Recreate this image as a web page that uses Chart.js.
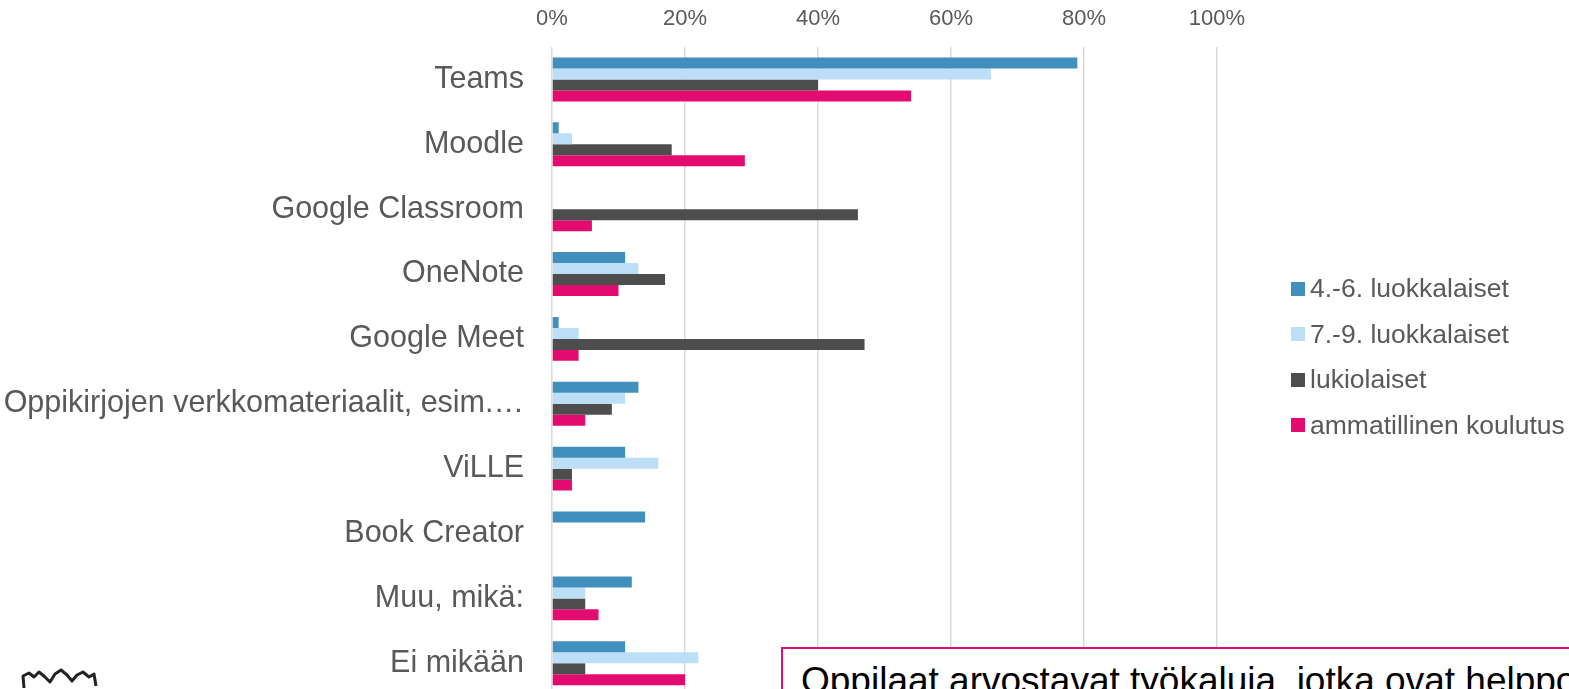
<!DOCTYPE html>
<html lang="fi">
<head>
<meta charset="utf-8">
<title>Digitaaliset oppimisalustat</title>
<script src="https://cdn.jsdelivr.net/npm/chart.js@4/dist/chart.umd.min.js"></script>
<style>
  html, body { margin: 0; padding: 0; background: #fff; overflow: hidden; }
  body { width: 1569px; height: 689px; position: relative; font-family: "Liberation Sans", Arial, sans-serif; }
  #chart { position: absolute; left: 0; top: 0; }
  #legend { position: absolute; left: 1291px; top: 266px; }
  .lg-item { display: flex; align-items: center; height: 45.5px; font-size: 26.5px; color: #595959; white-space: nowrap; }
  .lg-box { width: 14px; height: 14px; margin-right: 5px; }
  #note { position: absolute; left: 781px; top: 647px; width: 900px; height: 80px;
          border: 2px solid #E5097A; background: #fff; }
  #note span { position: absolute; left: 18px; top: 11px; font-size: 37px; color: #000; white-space: nowrap; }
  #logo { position: absolute; left: 20px; top: 668px; }
</style>
</head>
<body>
<canvas id="chart" width="1569" height="742"></canvas>
<div id="legend"></div>
<div id="note"><span>Oppilaat arvostavat työkaluja, jotka ovat helppo</span></div>
<svg id="logo" width="80" height="24" viewBox="0 0 80 24">
  <path d="M4 20 L3 8 L9 5 L14 9 L19 4 L25 9 L30 14 L35 6 L41 2 L47 7 L52 13 L57 7 L63 4 L69 9 L74 6 L76 18"
        fill="none" stroke="#222" stroke-width="3" stroke-linejoin="round"/>
</svg>

<script>
// categories (top to bottom)
const categories = [
  'Teams', 'Moodle', 'Google Classroom', 'OneNote', 'Google Meet',
  'Oppikirjojen verkkomateriaalit, esim.…', 'ViLLE', 'Book Creator', 'Muu, mikä:', 'Ei mikään'
];

const seriesNames = ['4.-6. luokkalaiset', '7.-9. luokkalaiset', 'lukiolaiset', 'ammatillinen koulutus'];

// shares in %
const grade4to6   = [79, 1, 0, 11, 1, 13, 11, 14, 12, 11];
const grade7to9   = [66, 3, 0, 13, 4, 11, 16, 0, 5, 22];
const upperSec    = [40, 18, 46, 17, 47, 9, 3, 0, 5, 5];
const vocational  = [54, 29, 6, 10, 4, 5, 3, 0, 7, 20];

const xTicks = [0, 20, 40, 60, 80, 100];

const COLORS = ['#418FBC', '#BDDEF7', '#4D4D4D', '#E30B6F'];

const seriesData = [grade4to6, grade7to9, upperSec, vocational];

// html legend
const legendEl = document.getElementById('legend');
seriesNames.forEach((name, i) => {
  const row = document.createElement('div');
  row.className = 'lg-item';
  row.innerHTML = `<span class="lg-box" style="background:${COLORS[i]}"></span>${name}`;
  legendEl.appendChild(row);
});

const ctx = document.getElementById('chart').getContext('2d');

new Chart(ctx, {
  type: 'bar',
  data: {
    labels: categories,
    datasets: seriesNames.map((name, i) => ({
      label:           name,
      data:            seriesData[i],
      backgroundColor: COLORS[i],
      borderWidth:     0,
      barPercentage:      1.0,
      categoryPercentage: 0.677,
    })),
  },
  options: {
    indexAxis:           'y',
    responsive:          false,
    animation:           false,
    layout: { padding: { top: 0, right: 352, bottom: 0, left: 0 } },
    scales: {
      x: {
        position: 'top',
        min: 0,
        max: 100,
        afterBuildTicks: (scale) => { scale.ticks = xTicks.map(v => ({ value: v })); },
        afterFit: (scale) => { scale.height = 47; },
        grid:   { color: '#D9D9D9', lineWidth: 1.5, drawTicks: false },
        border: { display: false },
        ticks: {
          color: '#595959',
          font: { family: 'Liberation Sans', size: 22 },
          padding: 15,
          callback: (v) => v + '%',
        },
      },
      y: {
        afterFit: (scale) => { scale.width = 552; },
        grid:   { display: false, drawTicks: false },
        border: { display: false },
        ticks: {
          color: '#595959',
          font: { family: 'Liberation Sans', size: 30.5 },
          padding: 28,
          autoSkip: false,
        },
      },
    },
    plugins: {
      legend:  { display: false },
      tooltip: { enabled: false },
    },
  },
});
</script>
</body>
</html>
